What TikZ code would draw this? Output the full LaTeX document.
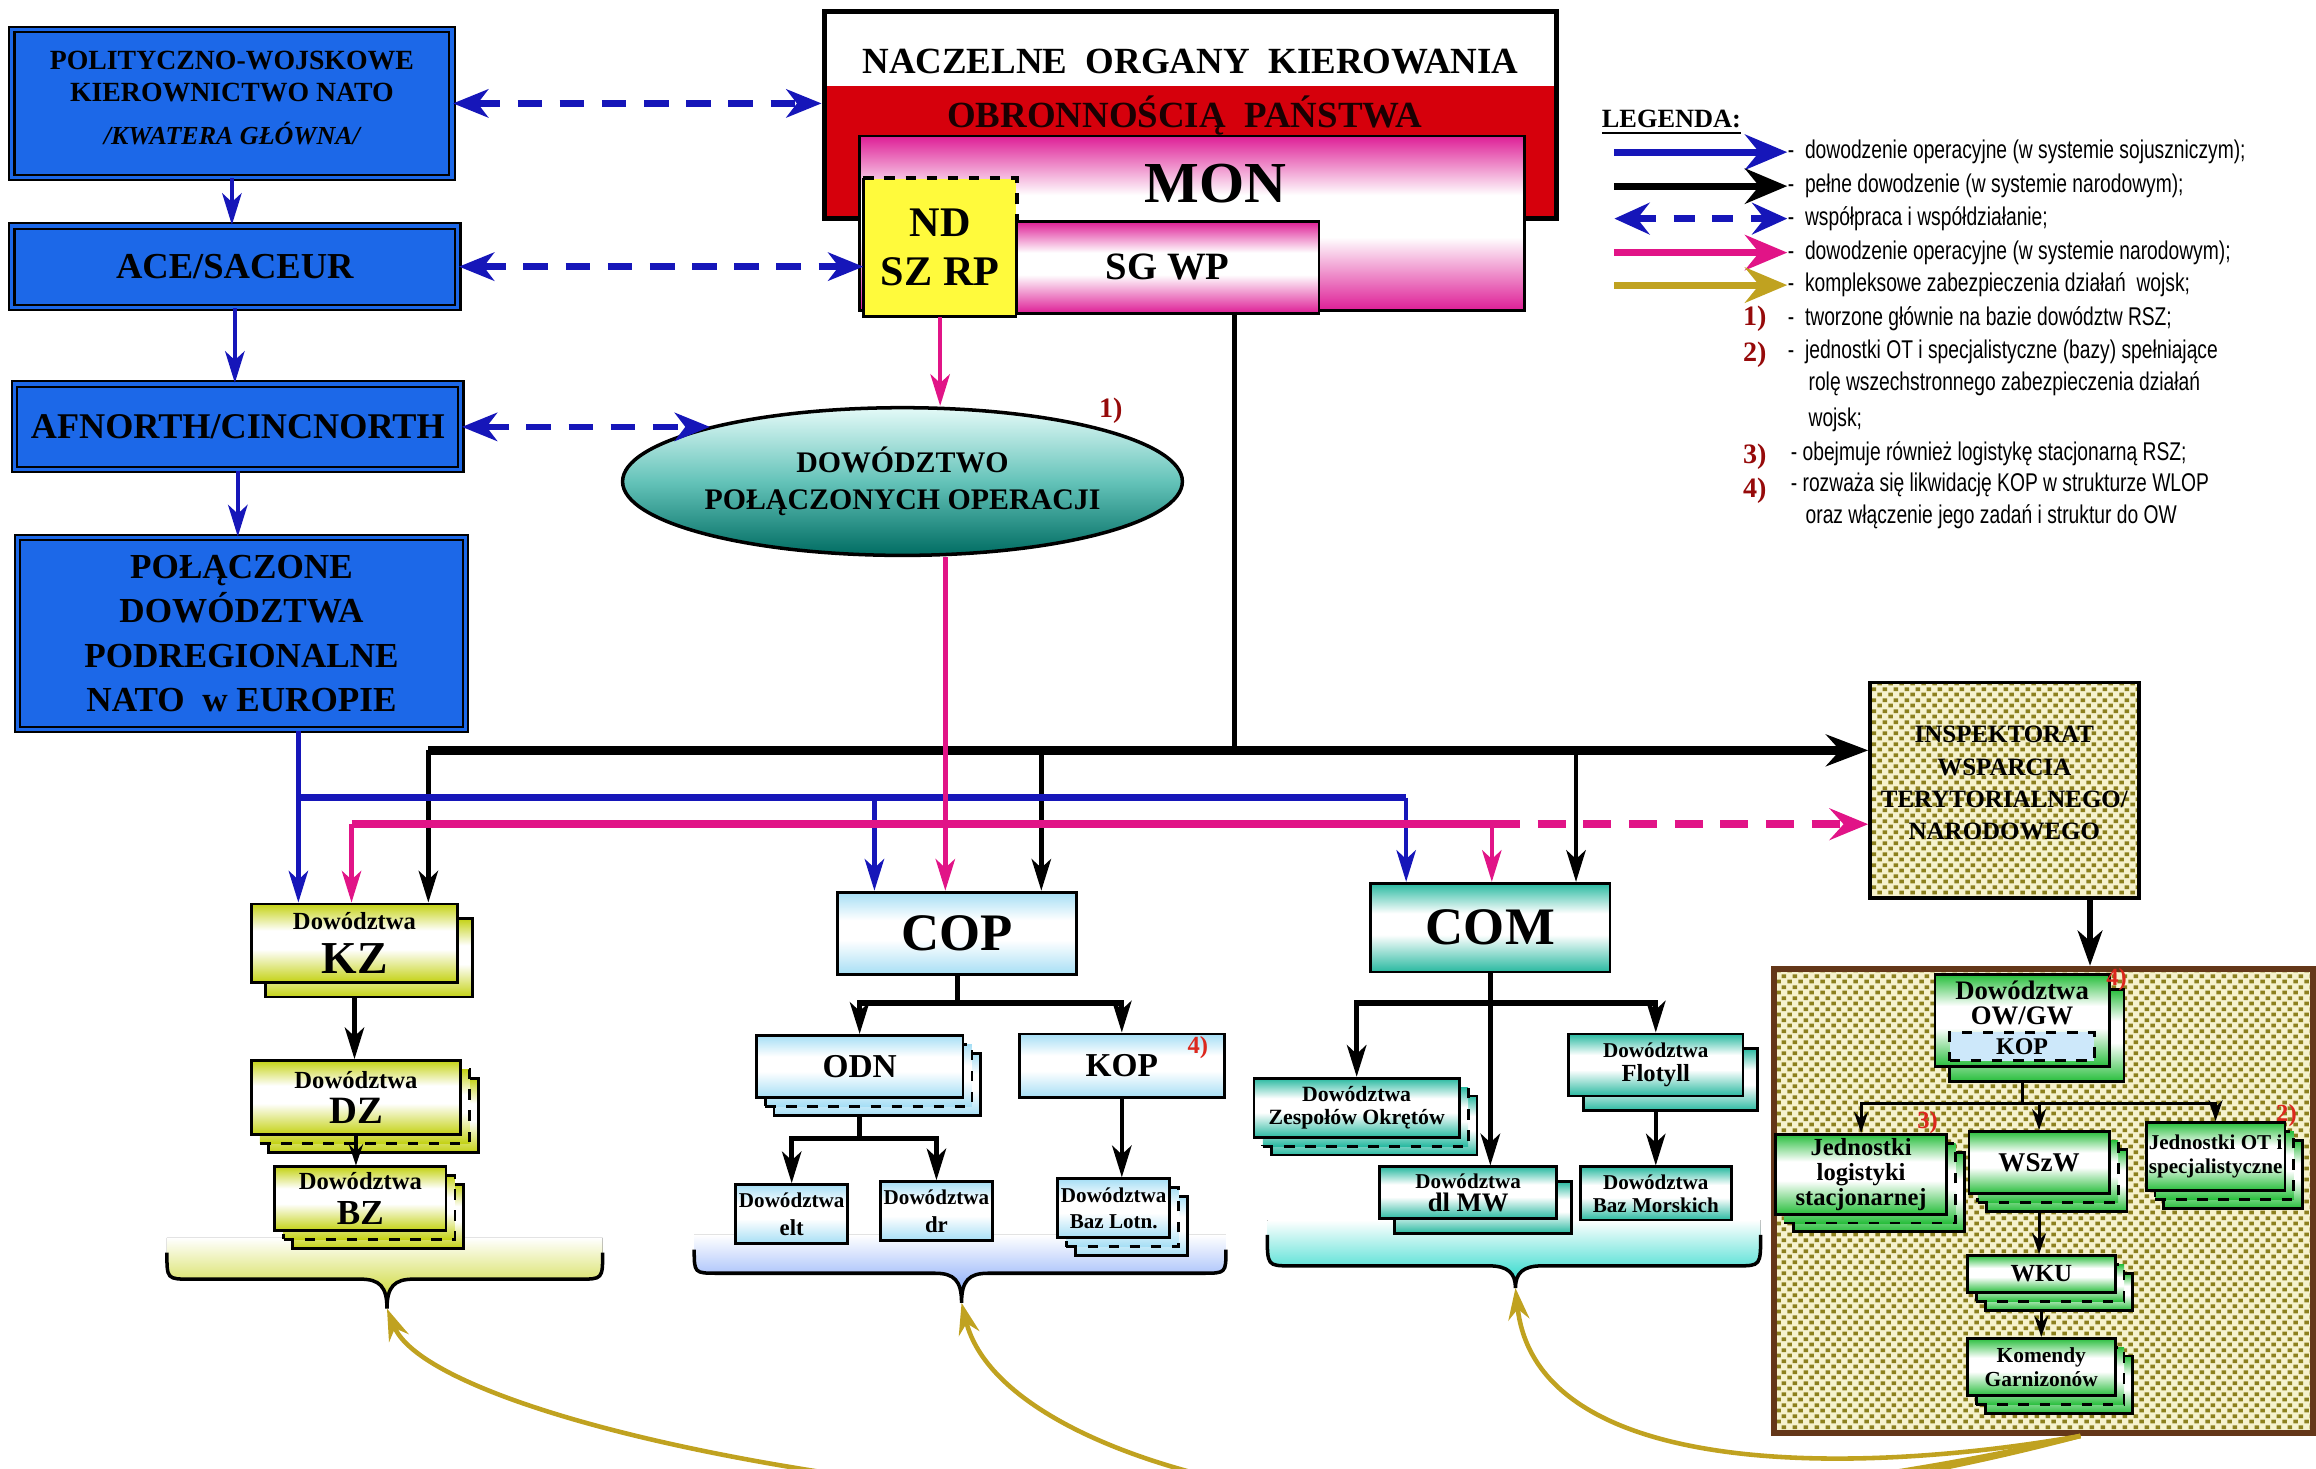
\documentclass[tikz,border=0pt]{standalone}
\usepackage{fontspec}
\setmainfont{Liberation Serif}
\newfontfamily\legendfont[FakeStretch=0.75]{Liberation Sans}
\usetikzlibrary{arrows.meta, positioning, fit, shapes.geometric, patterns.meta}

\definecolor{natoblue}{RGB}{28,104,232}
\definecolor{natoarrow}{RGB}{22,22,185}
\definecolor{stateRed}{RGB}{214,0,12}
\definecolor{monPink}{RGB}{222,30,150}
\definecolor{ndYellow}{RGB}{255,250,60}
\definecolor{kzGreen}{RGB}{196,210,20}
\definecolor{copBlue}{RGB}{165,222,245}
\definecolor{comTeal}{RGB}{40,185,160}
\definecolor{owGreen}{RGB}{40,190,60}
\definecolor{kopBlue}{RGB}{205,232,250}
\definecolor{dpoLight}{RGB}{228,250,248}
\definecolor{dpoMid}{RGB}{100,195,185}
\definecolor{dpoTeal}{RGB}{0,108,98}
\definecolor{natPink}{RGB}{225,20,135}
\definecolor{supGold}{RGB}{192,162,32}
\definecolor{dotOlive}{RGB}{140,128,30}
\definecolor{dotPaper}{RGB}{246,242,205}
\definecolor{zoneBrown}{RGB}{100,55,25}
\definecolor{noteRed}{RGB}{150,10,10}
\definecolor{markRed}{RGB}{220,40,30}

\newcommand{\pxu}{0.01477cm}
\newcommand{\fsz}[2]{\fontsize{#1}{#2}\selectfont}

% white band across the middle of a unit card
\newcommand{\bandshade}[2]{%
  \pgfdeclareverticalshading{#1}{100bp}{color(0bp)=(#2); color(25bp)=(#2);
    color(46bp)=(white); color(58bp)=(white); color(75bp)=(#2); color(100bp)=(#2)}}
\bandshade{kzshade}{kzGreen}
\bandshade{copshade}{copBlue}
\bandshade{comshade}{comTeal}
\bandshade{owshade}{owGreen}
\bandshade{monshade}{monPink}

\pgfdeclarepattern{
  name=olivedots, type=uncolored,
  bottom left={\pgfpoint{0pt}{0pt}}, top right={\pgfpoint{3.2pt}{3.2pt}},
  tile size={\pgfpoint{3.2pt}{3.2pt}},
  code={
    \pgfpathrectangle{\pgfpoint{0.1pt}{0.2pt}}{\pgfpoint{1.4pt}{1.1pt}}
    \pgfpathrectangle{\pgfpoint{1.7pt}{1.8pt}}{\pgfpoint{1.4pt}{1.1pt}}
    \pgfusepath{fill}
  }
}

% card with 0, 1 or 2 copies stacked behind it
% #1 copies, #2 style, #3 name, #4/#5 top left, #6/#7 bottom right, #8 font, #9 text
\newcommand{\cardstack}[9]{%
  \ifnum#1=2
    \node[#2, fit={(#4+12,#5+12) (#6+12,#7+12)}] (#3-back) {};
    \node[#2, dashed, fit={(#4+6,#5+6) (#6+6,#7+6)}] (#3-mid) {};
  \fi
  \ifnum#1=1
    \node[#2, fit={(#4+10,#5+10) (#6+10,#7+10)}] (#3-back) {};
  \fi
  \node[#2, fit={(#4,#5) (#6,#7)}] (#3) {};
  \node[boxtext, font=\bfseries#8] (#3-text) at (#3.center) {#9};
}

% brace under a group of commands, #1 names its tip
\newcommand{\groupbrace}[8]{%
  \fill[top color=white, bottom color=#8] (#2,#4-10) -- (#2,#4) .. controls (#2,#5) .. (#2+16,#5)
    -- (#6-18,#5) .. controls (#6-5,#5) and (#6,#5+5) .. (#6,#7)
    .. controls (#6,#5+5) and (#6+5,#5) .. (#6+18,#5)
    -- (#3-16,#5) .. controls (#3,#5) .. (#3,#4) -- (#3,#4-10) -- cycle;
  \draw[line width=1pt] (#2,#4) .. controls (#2,#5) .. (#2+16,#5)
    -- (#6-18,#5) .. controls (#6-5,#5) and (#6,#5+5) .. (#6,#7)
    .. controls (#6,#5+5) and (#6+5,#5) .. (#6+18,#5)
    -- (#3-16,#5) .. controls (#3,#5) .. (#3,#4);
  \coordinate (#1) at (#6,#7);
}

\begin{document}
\begin{tikzpicture}[
  x=0.01477cm, y=-0.01477cm,
  boxtext/.style={align=center, inner sep=0pt, font=\bfseries},
  natobox/.style={draw=black, line width=0.6pt, double=natoblue, double distance=0.9pt, fill=natoblue, inner sep=0pt},
  unitcard/.style={draw=black, line width=0.8pt, inner sep=0pt},
  kzcard/.style={unitcard, shading=kzshade},
  copcard/.style={unitcard, shading=copshade},
  comcard/.style={unitcard, shading=comshade},
  owcard/.style={unitcard, shading=owshade},
  monbox/.style={unitcard, shading=monshade},
  dotpaper/.style={preaction={fill=dotPaper}, pattern=olivedots, pattern color=dotOlive, inner sep=0pt},
  headtip/.style={-{Stealth[length=9pt, width=5.5pt, inset=2.5pt]}},
  smalltip/.style={-{Stealth[length=6pt, width=4pt, inset=2pt]}},
  bigtip/.style={-{Stealth[length=12pt, width=9pt, inset=4pt]}},
  natoflow/.style={natoarrow, line width=1.3pt, headtip},
  coop/.style={natoarrow, line width=1.8pt, dash pattern=on 7pt off 5pt,
    {Stealth[length=10pt, width=8pt, inset=3pt]}-{Stealth[length=10pt, width=8pt, inset=3pt]}},
  allied/.style={natoarrow, line width=1.3pt, headtip},
  alliedbus/.style={natoarrow, line width=2.2pt},
  national/.style={natPink, line width=1.3pt, headtip},
  nationalbus/.style={natPink, line width=2.2pt},
  fullbus/.style={black, line width=2.5pt},
  fullcmd/.style={black, line width=1.3pt, headtip},
  branch/.style={black, line width=1.5pt, headtip},
  thinbranch/.style={black, line width=0.9pt, smalltip},
  support/.style={supGold, line width=1.3pt, -{Stealth[length=9pt, width=6pt, inset=3pt]}},
  notenum/.style={text=noteRed, inner sep=0pt, font=\bfseries\fsz{8}{9}},
  cardnote/.style={text=markRed, inner sep=0pt, font=\bfseries\fsz{7}{8}},
  legtext/.style={anchor=west, inner sep=0pt, font=\legendfont\fsz{7.3}{8}},
  legarrow/.style={line width=2pt, -{Stealth[length=12pt, width=10pt, inset=4pt]}},
]
\useasboundingbox (0,0) rectangle (1568,994);

% ---- NATO chain ----
\node[natobox, fit={(8,20) (306,120)}] (pol) {};
\node[boxtext, font=\bfseries\fsz{7.9}{9.2}] (polText) at ([yshift=1.5pt]pol.center)
  {POLITYCZNO-WOJSKOWE\\KIEROWNICTWO NATO\\[3pt]\fsz{7.4}{9}\itshape /KWATERA GŁÓWNA/};
\node[natobox, fit={(8,153) (310,208)}] (ace) {};
\node[boxtext, font=\bfseries\fsz{10.4}{12}] (aceText) at (ace.center) {ACE/SACEUR};
\node[natobox, fit={(10,260) (312,318)}] (afn) {};
\node[boxtext, font=\bfseries\fsz{10.3}{12}] (afnText) at (afn.center) {AFNORTH/CINCNORTH};
\node[natobox, fit={(12,364) (315,494)}] (pdp) {};
\node[boxtext, font=\bfseries\fsz{10}{12.6}] (pdpText) at (pdp.center)
  {POŁĄCZONE\\DOWÓDZTWA\\PODREGIONALNE\\NATO\ \ w EUROPIE};

% ---- national top level ----
\node[draw=black, line width=1.5pt, fill=white, inner sep=0pt, fit={(558,8) (1054,148)}] (noo) {};
\node[fill=stateRed, inner sep=0pt, fit={(560,58) (1052,146)}] (band) {};
\node[font=\bfseries\fsz{10.5}{12}] (nooTop) at (806,42) {NACZELNE\ \ ORGANY\ \ KIEROWANIA};
\node[font=\bfseries\fsz{10.5}{12}, text=black!88!stateRed] (nooBand) at (802,78) {OBRONNOŚCIĄ\ \ PAŃSTWA};
\node[monbox, fit={(582,92) (1032,210)}] (mon) {};
\node[font=\bfseries\fsz{16.5}{18}] (monName) at (823,124) {MON};
\node[fill=ndYellow, inner sep=0pt, fit={(585,121) (688,214)}] (nd) {};
\node[boxtext, font=\bfseries\fsz{12}{14}] (ndText) at (nd.center) {ND\\SZ RP};
\draw[line width=0.9pt] (nd.north west) -- (nd.south west) -- (nd.south east);
\draw[line width=0.9pt, dashed] (nd.north west) -- (nd.north east) -- (nd.south east);
\node[monbox, fit={(688,150) (893,212)}] (sg) {};
\node[boxtext, font=\bfseries\fsz{11}{12}] (sgText) at (sg.center) {SG WP};

\node[ellipse, draw=black, line width=1pt, minimum width=376*\pxu, minimum height=100*\pxu, inner sep=0pt,
  top color=dpoLight, bottom color=dpoTeal, middle color=dpoMid, align=center, font=\bfseries\fsz{8.5}{10.5}]
  (dpo) at (611,326) {DOWÓDZTWO\\POŁĄCZONYCH OPERACJI};
\node[notenum] (n1) at (752,278) {1)};

% ---- territorial support ----
\node[dotpaper, draw=black, line width=1pt, fit={(1266,462) (1448,608)}] (insp) {};
\node[boxtext, font=\bfseries\fsz{7.1}{9.2}] (inspText) at ([yshift=2pt]insp.center)
  {INSPEKTORAT\\WSPARCIA\\TERYTORIALNEGO/\\NARODOWEGO};
\node[dotpaper, draw=zoneBrown, line width=1.8pt, fit={(1201,656) (1566,970)}] (zone) {};

% ---- braces under the services ----
\groupbrace{kzTip}{113}{408}{848}{866}{262}{886}{kzGreen}
\groupbrace{copTip}{470}{830}{846}{862}{651}{882}{copBlue!70!blue}
\groupbrace{comTip}{858}{1192}{836}{857}{1026}{872}{comTeal!60!cyan}

% ---- land forces ----
\cardstack{1}{kzcard}{kz}{170}{612}{310}{665}{\fsz{7}{8}}{Dowództwa\\[3pt]\fsz{13}{13}KZ}
\cardstack{2}{kzcard}{dz}{170}{718}{312}{768}{\fsz{7}{8}}{Dowództwa\\[2pt]\fsz{11}{12}DZ}
\cardstack{2}{kzcard}{bz}{186}{790}{302}{833}{\fsz{7}{8}}{Dowództwa\\[2pt]\fsz{10}{11}BZ}

% ---- air forces ----
\cardstack{0}{copcard}{cop}{567}{604}{729}{660}{\fsz{15}{16}}{COP}
\cardstack{2}{copcard}{odn}{512}{701}{652}{743}{\fsz{9.5}{11}}{ODN}
\cardstack{0}{copcard}{kop}{690}{700}{829}{743}{\fsz{9.5}{11}}{KOP}
\node[cardnote] (n4a) at (811,709) {4)};
\cardstack{0}{copcard}{elt}{498}{802}{574}{842}{\fsz{6}{7}}{Dowództwa\\[1pt]\fsz{6.5}{7}elt}
\cardstack{0}{copcard}{dr}{596}{800}{672}{840}{\fsz{6}{7}}{Dowództwa\\[1pt]\fsz{6.5}{7}dr}
\cardstack{2}{copcard}{bazl}{716}{798}{792}{838}{\fsz{6}{7}}{Dowództwa\\[0.5pt]Baz Lotn.}

% ---- navy ----
\cardstack{0}{comcard}{com}{928}{598}{1090}{658}{\fsz{15}{16}}{COM}
\cardstack{2}{comcard}{zes}{849}{730}{988}{770}{\fsz{6.2}{6.5}}{Dowództwa\\Zespołów Okrętów}
\cardstack{1}{comcard}{flo}{1062}{700}{1180}{742}{\fsz{6}{7}}{Dowództwa\\\fsz{7}{7}Flotyll}
\cardstack{1}{comcard}{dlmw}{934}{790}{1054}{825}{\fsz{6}{6.5}}{Dowództwa\\\fsz{7.6}{7}dl MW}
\cardstack{0}{comcard}{bm}{1070}{790}{1172}{826}{\fsz{6}{6.5}}{Dowództwa\\Baz Morskich}

% ---- military districts ----
\cardstack{1}{owcard}{ow}{1310}{660}{1428}{722}{}{}
\node[boxtext, font=\bfseries\fsz{7.6}{7}] (owName) at (1369,679) {Dowództwa\\OW/GW};
\node[draw=black, dashed, line width=0.7pt, fill=kopBlue, inner sep=0pt, fit={(1320,699) (1418,718)}] (owKop) {};
\node[boxtext, font=\bfseries\fsz{6.8}{8}] (owKopText) at (owKop.center) {KOP};
\cardstack{2}{owcard}{jl}{1202}{768}{1318}{822}{\fsz{7}{7.1}}{Jednostki\\logistyki\\stacjonarnej}
\cardstack{2}{owcard}{wszw}{1333}{766}{1428}{808}{\fsz{7.7}{9}}{WSzW}
\cardstack{2}{owcard}{jot}{1453}{760}{1547}{806}{\fsz{6}{6.7}}{Jednostki OT i\\specjalistyczne}
\cardstack{2}{owcard}{wku}{1332}{850}{1432}{875}{\fsz{7}{8}}{WKU}
\cardstack{2}{owcard}{kg}{1332}{906}{1432}{945}{\fsz{6.1}{6.7}}{Komendy\\Garnizonów}
\node[cardnote] (n4b) at (1433,663) {4)};
\node[cardnote] (n3) at (1305,760) {3)};
\node[cardnote] (n2) at (1548,755) {2)};

% ---- NATO links ----
\draw[natoflow] (pol.south) -- (pol.south |- ace.north);
\draw[natoflow] (ace.south) -- (ace.south |- afn.north);
\draw[natoflow] (afn.south) -- (afn.south |- pdp.north);
\draw[coop] (pol.east) -- (pol.east -| noo.west);
\draw[coop] (ace.east) -- (ace.east -| nd.west);
\draw[coop] (afn.east) -- (afn.east -| dpo.164);

% ---- full command bus ----
\coordinate (monOut) at ([xshift=29*\pxu]mon.south);
\coordinate (busL) at (290,508);
\coordinate (busCop) at (705,508);
\coordinate (busCom) at (1067,508);
\draw[black, line width=1.4pt] (monOut) -- (monOut |- busL);
\draw[fullbus, bigtip] (busL) -- (busL -| insp.west);
\draw[fullcmd] (busL) -- (busL |- kz.north);
\draw[fullcmd] (busCop) -- (busCop |- cop.north);
\draw[fullcmd] (busCom) -- (busCom |- com.north);

% ---- allied operational command ----
\coordinate (bl) at (202,540);
\coordinate (blCop) at (592,540);
\coordinate (blCom) at (952,540);
\draw[allied] (pdp.south -| bl) -- (bl |- kz.north);
\draw[alliedbus] (bl) -- (blCom);
\draw[allied] (blCop) -- (blCop |- cop.north);
\draw[allied] (blCom) -- (blCom |- com.north);

% ---- national operational command ----
\coordinate (pkL) at (238,558);
\coordinate (pkCop) at (640,558);
\coordinate (pkCom) at (1010,558);
\draw[national] (nd.south) -- (nd.south |- dpo.north);
\draw[national] (dpo.south -| pkCop) -- (pkCop |- cop.north);
\draw[nationalbus] (pkL) -- (pkCom);
\draw[national] (pkL) -- (pkL |- kz.north);
\draw[national] (pkCom) -- (pkCom |- com.north);
\draw[natPink, line width=2.2pt, dash pattern=on 8pt off 5pt, -{Stealth[length=11pt, width=9pt, inset=4pt]}] (pkCom) -- (pkCom -| insp.west);

\coordinate (inspOut) at ([xshift=58*\pxu]insp.south);
\draw[black, line width=1.6pt, -{Stealth[length=10pt, width=7pt, inset=3pt]}] (inspOut) -- (inspOut |- zone.north);

% ---- trees inside the services ----
\draw[fullcmd] (kz.south |- kz-back.south) -- (kz.south |- dz.north);
\draw[black, line width=1.2pt, smalltip] (dz.south) -- (dz.south |- bz.north);
\draw[branch] (cop.south) -- ++(0,18) -| (odn.north);
\draw[branch] (cop.south) -- ++(0,18) -| (kop.north);
\draw[branch, line width=1.3pt] (odn.south |- odn-back.south) -- ++(0,15) -| (elt.north);
\draw[branch, line width=1.3pt] (odn.south |- odn-back.south) -- ++(0,15) -| (dr.north);
\draw[branch, line width=1.3pt] (kop.south) -- (kop.south |- bazl.north);
\draw[branch] (com.south) -- ++(0,20) -| (zes.north);
\draw[branch] (com.south) -- ++(0,20) -| (flo.north);
\draw[branch] (com.south) -- (com.south |- dlmw.north);
\draw[branch, line width=1.3pt] (flo.south |- flo-back.south) -- (flo.south |- bm.north);
\draw[thinbranch] (ow.south |- ow-back.south) -- ++(0,14) -| (jl.north);
\draw[thinbranch] (ow.south |- ow-back.south) -- ++(0,14) -| (wszw.north);
\draw[thinbranch] (ow.south |- ow-back.south) -- ++(0,14) -| (jot.north);
\draw[thinbranch] (wszw.south |- wszw-back.south) -- (wszw.south |- wku.north);
\draw[thinbranch] (wku.south |- wku-back.south) -- (wku.south |- kg.north);

% ---- support links ----
\coordinate (supOut) at ([xshift=25*\pxu]zone.south);
\begin{scope}
  \clip (0,0) rectangle (1568,994);
  \draw[support] (supOut) .. controls (900,1090) and (300,980) .. (kzTip);
  \draw[support] (supOut) .. controls (1000,1080) and (680,1000) .. (copTip);
  \draw[support] (supOut) .. controls (1250,1000) and (1040,1000) .. (comTip);
\end{scope}

% ---- legend ----
\node[anchor=west, inner sep=0pt, font=\bfseries\fsz{7.5}{9}] (legTitle) at (1084,83) {\underline{LEGENDA:}};
\node[legtext] (lg1) at (1210,103) {-\ \ dowodzenie operacyjne (w systemie sojuszniczym);};
\node[legtext] (lg2) at (1210,126) {-\ \ pełne dowodzenie (w systemie narodowym);};
\node[legtext] (lg3) at (1210,148) {-\ \ współpraca i współdziałanie;};
\node[legtext] (lg4) at (1210,171) {-\ \ dowodzenie operacyjne (w systemie narodowym);};
\node[legtext] (lg5) at (1210,193) {-\ \ kompleksowe zabezpieczenia działań\ \ wojsk;};
\coordinate (la1) at (1093,103);
\coordinate (la2) at (1093,126);
\coordinate (la3) at (1093,148);
\coordinate (la4) at (1093,171);
\coordinate (la5) at (1093,193);
\draw[legarrow, natoarrow] (la1) -- (lg1.west);
\draw[legarrow, black] (la2) -- (lg2.west);
\draw[natoarrow, line width=2pt, dash pattern=on 6pt off 5pt,
  {Stealth[length=10pt, width=9pt, inset=3.5pt]}-{Stealth[length=10pt, width=9pt, inset=3.5pt]}] (la3) -- (lg3.west);
\draw[legarrow, natPink] (la4) -- (lg4.west);
\draw[legarrow, supGold] (la5) -- (lg5.west);

\node[notenum] (ln1) at (1188,216) {1)};
\node[notenum] (ln2) at (1188,240) {2)};
\node[notenum] (ln3) at (1188,309) {3)};
\node[notenum] (ln4) at (1188,332) {4)};
\node[legtext] (lg6) at (1210,216) {-\ \ tworzone głównie na bazie dowództw RSZ;};
\node[legtext] (lg7) at (1210,238) {-\ \ jednostki OT i specjalistyczne (bazy) spełniające};
\node[legtext] (lg7b) at (1224,260) {rolę wszechstronnego zabezpieczenia działań};
\node[legtext] (lg7c) at (1224,284) {wojsk;};
\node[legtext] (lg8) at (1212,307) {- obejmuje również logistykę stacjonarną RSZ;};
\node[legtext] (lg9) at (1212,328) {- rozważa się likwidację KOP w strukturze WLOP};
\node[legtext] (lg9b) at (1222,350) {oraz włączenie jego zadań i struktur do OW};
\end{tikzpicture}
\end{document}
